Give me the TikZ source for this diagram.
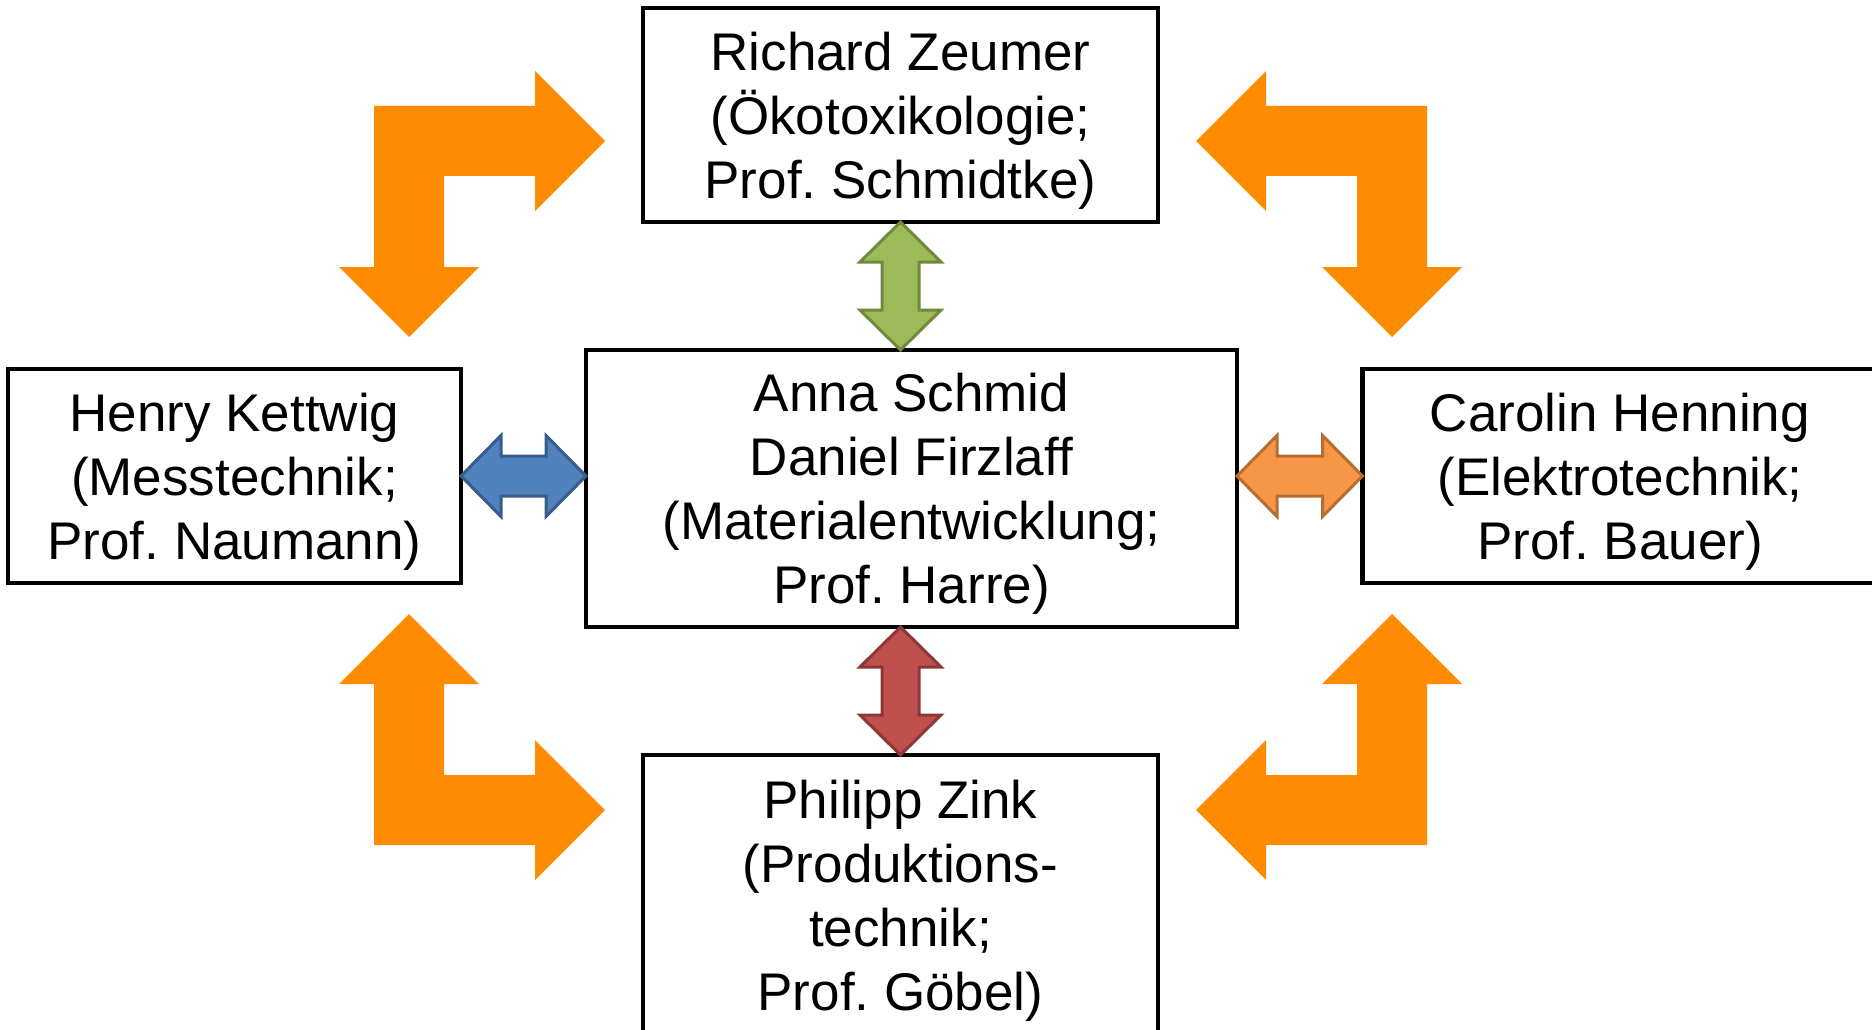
\documentclass[tikz,border=0pt]{standalone}
\usepackage{fontspec}
\setmainfont{Liberation Sans}
\usetikzlibrary{calc}
\definecolor{bigorange}{HTML}{FF8C00}
\definecolor{grfill}{HTML}{9BBB59}\definecolor{grline}{HTML}{71893F}
\definecolor{blfill}{HTML}{4F81BD}\definecolor{blline}{HTML}{385D8A}
\definecolor{orfill}{HTML}{F79646}\definecolor{orline}{HTML}{B66D31}
\definecolor{rdfill}{HTML}{C0504D}\definecolor{rdline}{HTML}{8C3836}
\newcommand\myVArrow[3]{\draw[#1] (#2) -- ($(#2)+(40.5,40)$) -- ($(#2)+(18.5,40)$) -- ($(#3)+(18.5,-40)$) -- ($(#3)+(40.5,-40)$) -- (#3) -- ($(#3)+(-40.5,-40)$) -- ($(#3)+(-18.5,-40)$) -- ($(#2)+(-18.5,40)$) -- ($(#2)+(-40.5,40)$) -- cycle;}
\newcommand\myHArrow[3]{\draw[#1] (#2) -- ($(#2)+(40,-40.5)$) -- ($(#2)+(40,-20)$) -- ($(#3)+(-40,-20)$) -- ($(#3)+(-40,-40.5)$) -- (#3) -- ($(#3)+(-40,40.5)$) -- ($(#3)+(-40,20)$) -- ($(#2)+(40,20)$) -- ($(#2)+(40,40.5)$) -- cycle;}
\begin{document}
\begin{tikzpicture}[x=1pt,y=-1pt,
  box/.style={draw=black, line width=4.7pt, fill=white, inner sep=0pt, outer sep=0pt},
  txt/.style={inner sep=0pt, align=center, font=\fontsize{53}{64}\selectfont\frenchspacing},
  bigarrow/.style={fill=bigorange, draw=none},
  smallarrow/.style={line width=3pt, line join=miter}]
\clip (0,0) rectangle (1872,1030);
\fill[white] (0,0) rectangle (1872,1030);

% big orange L-shaped arrows
\path[bigarrow] (374,106) -- (535,106) -- (535,71) -- (605,141) -- (535,211) -- (535,176) -- (444,176) -- (444,267) -- (479,267) -- (409,337) -- (339,267) -- (374,267) -- cycle;
\path[bigarrow] (1427,106) -- (1266,106) -- (1266,71) -- (1196,141) -- (1266,211) -- (1266,176) -- (1357,176) -- (1357,267) -- (1322,267) -- (1392,337) -- (1462,267) -- (1427,267) -- cycle;
\path[bigarrow] (374,845) -- (535,845) -- (535,880) -- (605,810) -- (535,740) -- (535,775) -- (444,775) -- (444,684) -- (479,684) -- (409,614) -- (339,684) -- (374,684) -- cycle;
\path[bigarrow] (1427,845) -- (1266,845) -- (1266,880) -- (1196,810) -- (1266,740) -- (1266,775) -- (1357,775) -- (1357,684) -- (1322,684) -- (1392,614) -- (1462,684) -- (1427,684) -- cycle;

% boxes
\node[box, minimum width=515pt, minimum height=214pt] (top) at (900.5,115) {};
\node[box, minimum width=651pt, minimum height=277pt] (center) at (911.5,488.5) {};
\node[box, minimum width=453pt, minimum height=214pt] (left) at (234.5,476) {};
\node[box, minimum width=515pt, minimum height=214pt] (right) at (1620,476) {};
\node[box, minimum width=515pt, minimum height=281pt] (bottom) at (900.5,895.5) {};

% texts
\node[txt] (toptxt) at ([yshift=-5.5pt]top.center) {Richard Zeumer\\(Ökotoxikologie;\\Prof. Schmidtke)};
\node[txt] (centertxt) at ([yshift=-5.5pt]center.center) {Anna Schmid\\Daniel Firzlaff\\(Materialentwicklung;\\Prof. Harre)};
\node[txt] (lefttxt) at ([yshift=-5.5pt]left.center) {Henry Kettwig\\(Messtechnik;\\Prof. Naumann)};
\node[txt] (righttxt) at ([yshift=-5.5pt]right.center) {Carolin Henning\\(Elektrotechnik;\\Prof. Bauer)};
\node[txt] (bottomtxt) at ([yshift=-5.5pt]bottom.center) {Philipp Zink\\(Produktions-\\technik;\\Prof. Göbel)};

% small double arrows
\coordinate (gA) at (top.south);
\coordinate (gB) at (top.south |- center.north);
\coordinate (bA) at (left.east);
\coordinate (bB) at (center.west |- left.east);
\coordinate (oA) at (center.east |- right.west);
\coordinate (oB) at (right.west);
\coordinate (rA) at (bottom.north |- center.south);
\coordinate (rB) at (bottom.north);
\myVArrow{smallarrow, fill=grfill, draw=grline}{gA}{gB}
\myHArrow{smallarrow, fill=blfill, draw=blline}{bA}{bB}
\myHArrow{smallarrow, fill=orfill, draw=orline}{oA}{oB}
\myVArrow{smallarrow, fill=rdfill, draw=rdline}{rA}{rB}
\end{tikzpicture}
\end{document}
